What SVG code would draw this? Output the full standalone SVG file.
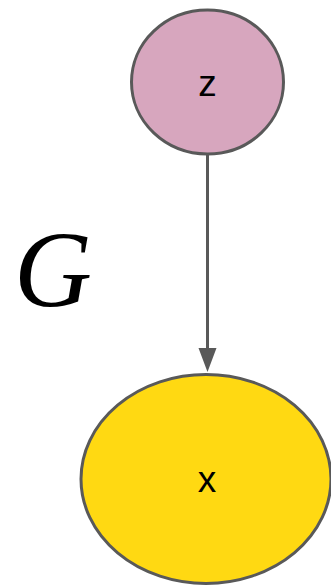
<svg xmlns="http://www.w3.org/2000/svg" width="331" height="586" viewBox="0 0 331 586">
<style>
.node{stroke:#595959;stroke-width:3}
.lbl{font-family:"Liberation Sans",Arial,sans-serif;font-size:37px;fill:#000;text-anchor:middle}
.edge{stroke:#595959;stroke-width:3;fill:none}
</style>
<rect width="331" height="586" fill="#fff"/>
<text x="14" y="306" font-family="'Liberation Serif',serif" font-style="italic" font-size="108" fill="#000">G</text>
<g id="edges">
<path class="edge" d="M207.5,155 L207.5,348"/>
<path d="M198.5,348 L216.5,348 L207.5,372 Z" fill="#595959"/>
</g>
<g id="z">
<ellipse class="node" cx="207.5" cy="82" rx="76" ry="72" fill="#d7a6be"/>
<text class="lbl" x="207.5" y="96">z</text>
</g>
<g id="x">
<ellipse class="node" cx="206" cy="479" rx="125" ry="104.5" fill="#ffd912"/>
<text class="lbl" x="207" y="492">x</text>
</g>
</svg>
